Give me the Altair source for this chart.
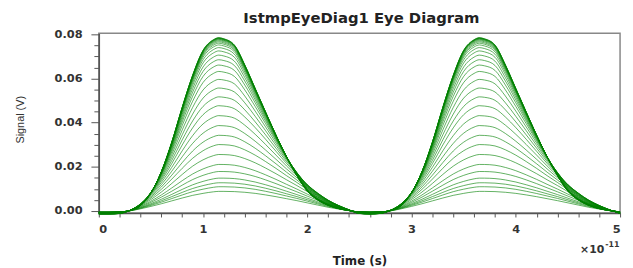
import altair as alt
import pandas as pd

# time samples of one bit period (units of 1e-11 s)
pulse_x = [0.0, 0.1, 0.2, 0.3, 0.4, 0.5, 0.6, 0.7, 0.8, 0.9, 1.0, 1.1, 1.15,
           1.2, 1.3, 1.4, 1.5, 1.6, 1.7, 1.8, 1.9, 2.0, 2.1, 2.2, 2.3, 2.4,
           2.5]
period_offsets = [0.0, 2.5]

# outermost (largest) trace, V
outer_profile = [-0.0005, -0.0005, -0.0004, 0.0003, 0.0025, 0.0082, 0.0178,
                 0.0312, 0.0470, 0.0615, 0.0728, 0.0776, 0.0785, 0.0780,
                 0.0752, 0.0662, 0.0555, 0.0448, 0.0343, 0.0245, 0.0160,
                 0.0090, 0.0050, 0.0026, 0.0011, 0.0002, -0.0004]
# innermost (smallest) trace, V
inner_profile = [-0.0005, -0.0005, -0.0004, 0.0001, 0.0010, 0.0021, 0.0033,
                 0.0046, 0.0059, 0.0071, 0.0080, 0.0087, 0.0089, 0.0089,
                 0.0088, 0.0085, 0.0080, 0.0073, 0.0065, 0.0056, 0.0047,
                 0.0037, 0.0027, 0.0017, 0.0009, 0.0002, -0.0004]

# peak value of every trace, V
trace_peaks = [0.0089, 0.0110, 0.0128, 0.0149, 0.0179, 0.0211, 0.0256, 0.0301,
               0.0343, 0.0387, 0.0432, 0.0477, 0.0517, 0.0557, 0.0596, 0.0632,
               0.0661, 0.0685, 0.0706, 0.0725, 0.0740, 0.0752, 0.0760, 0.0766,
               0.0771, 0.0775, 0.0778, 0.0780, 0.0782, 0.0783, 0.0784, 0.0785]

x_major = [0, 1, 2, 3, 4, 5]
x_minor = [0.2, 0.4, 0.6, 0.8, 1.2, 1.4, 1.6, 1.8, 2.2, 2.4, 2.6, 2.8,
           3.2, 3.4, 3.6, 3.8, 4.2, 4.4, 4.6, 4.8]
y_major = [0.0, 0.02, 0.04, 0.06, 0.08]
y_minor = [0.005, 0.01, 0.015, 0.025, 0.03, 0.035, 0.045, 0.05, 0.055,
           0.065, 0.07, 0.075]

chart_title = "IstmpEyeDiag1 Eye Diagram"

out_max = max(outer_profile)
in_max = max(inner_profile)
lo, hi = trace_peaks[0], trace_peaks[-1]
rows = []
for i, a in enumerate(trace_peaks):
    w = (a - lo) / (hi - lo)
    for off in period_offsets:
        for j, px in enumerate(pulse_x):
            if off > 0 and j == 0:
                continue
            shape = (1 - w) * inner_profile[j] / in_max + w * outer_profile[j] / out_max
            rows.append({"trace": i, "t": round(px + off, 3), "v": a * shape})
df = pd.DataFrame(rows)

xs = alt.Scale(domain=[0, 5], nice=False, zero=False)
ys = alt.Scale(domain=[-0.0009, 0.08045], nice=False, zero=False)

lines = alt.Chart(df).mark_line(
    color="#008000", strokeWidth=1, opacity=0.62, interpolate="monotone"
).encode(
    x=alt.X("t:Q", scale=xs, axis=alt.Axis(
        values=x_major, format="d", title="Time (s)", tickSize=4,
        labelPadding=7, titleFont="DejaVu Sans", titleFontWeight="bold",
        titleFontSize=12, titleColor="#222", titleY=52,
        titleBaseline="alphabetic", orient="bottom")),
    y=alt.Y("v:Q", scale=ys, axis=alt.Axis(
        values=y_major, format=".2f", title="Signal (V)", tickSize=8,
        labelPadding=9, titleFont="Liberation Sans Narrow, Liberation Sans",
        titleFontWeight="normal", titleFontSize=11, titleColor="#333",
        titleX=-76, titleY=87, titleBaseline="alphabetic", titleAngle=270,
        orient="left")),
    detail="trace:N",
)

minor = alt.Chart(df).mark_line(opacity=0).encode(
    x=alt.X("t:Q", scale=xs, axis=alt.Axis(
        values=x_minor, labels=False, domain=False, title=None, tickSize=4,
        orient="bottom")),
    y=alt.Y("v:Q", scale=ys, axis=alt.Axis(
        values=y_minor, labels=False, domain=False, title=None, tickSize=5,
        orient="left")),
    detail="trace:N",
)

title_mark = alt.Chart(pd.DataFrame({"s": [chart_title]})).mark_text(
    font="DejaVu Sans", fontWeight="bold", fontSize=15, align="center",
    baseline="alphabetic", color="#222"
).encode(x=alt.value(266), y=alt.value(-10), text="s:N")

mult = alt.Chart(pd.DataFrame({"s": ["×10"]})).mark_text(
    font="DejaVu Sans", fontWeight="bold", fontSize=11, align="right",
    baseline="middle", color="#333"
).encode(x=alt.value(512), y=alt.value(219), text="s:N")

expo = alt.Chart(pd.DataFrame({"s": ["-11"]})).mark_text(
    font="DejaVu Sans", fontWeight="bold", fontSize=8, align="left",
    baseline="middle", color="#333"
).encode(x=alt.value(513), y=alt.value(214), text="s:N")

chart = alt.layer(lines, minor, title_mark, mult, expo).resolve_axis(
    x="independent", y="independent"
).properties(
    width=528, height=182,
    autosize=alt.AutoSizeParams(type="none"),
    padding={"left": 92, "top": 24, "right": 5, "bottom": 54},
).configure_axis(
    labelFont="DejaVu Sans", labelFontWeight="bold", labelFontSize=11.5,
    labelColor="#333", domainColor="#555", domainWidth=1.5, tickColor="#555",
    tickWidth=1, grid=False,
).configure_view(stroke="#888", strokeWidth=1.5)

chart.save("out.html", embed_options={"renderer": "svg", "actions": False})
